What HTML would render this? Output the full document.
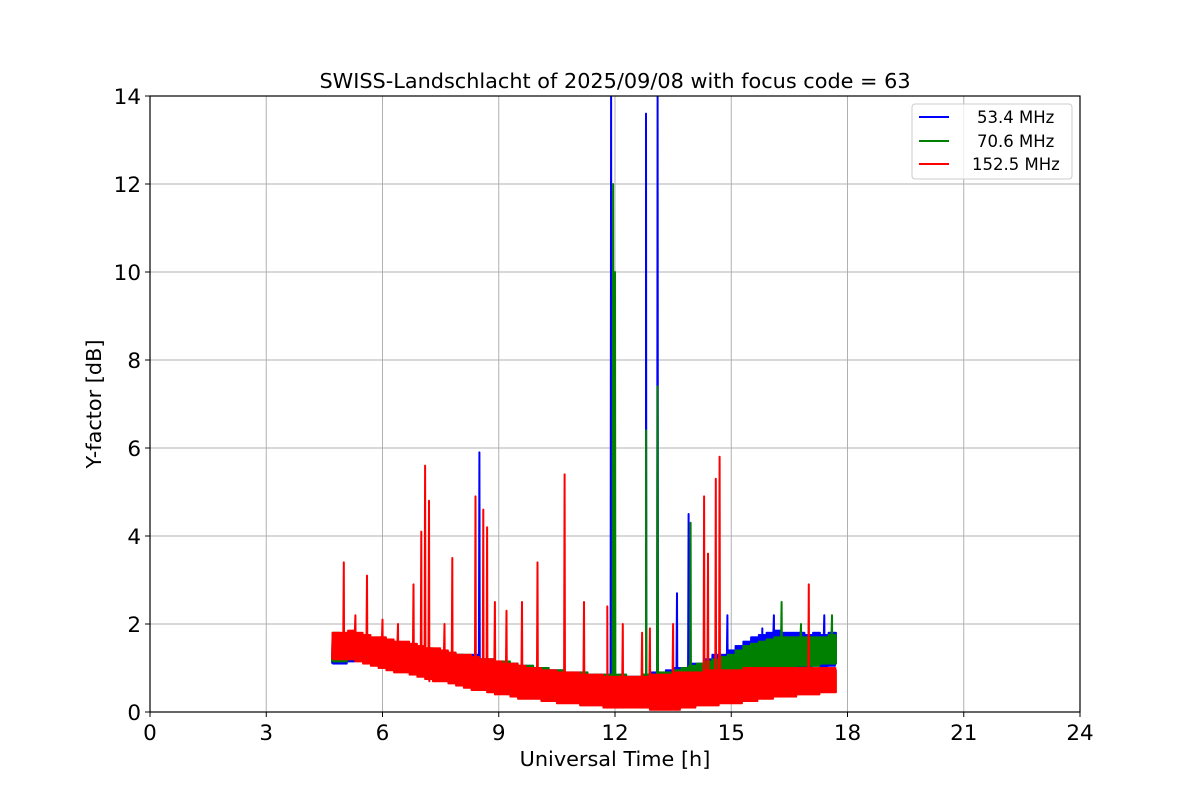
<!DOCTYPE html>
<html><head><meta charset="utf-8"><style>
body{margin:0;background:#fff;}
svg{display:block;font-family:"DejaVu Sans","Liberation Sans",sans-serif;}
</style></head><body>
<svg id="chart" width="1200" height="800" xmlns="http://www.w3.org/2000/svg">
<rect width="1200" height="800" fill="#fff"/>
<text x="615" y="88" text-anchor="middle" font-size="20.8">SWISS-Landschlacht of 2025/09/08 with focus code = 63</text>
<g id="grid"></g>
<g id="series"></g>
<rect x="150" y="96" width="930" height="616" fill="none" stroke="#000" stroke-width="1.2"/>
<g id="ticks"></g>
<text x="615" y="766" text-anchor="middle" font-size="20.8">Universal Time [h]</text>
<text transform="translate(101,404) rotate(-90)" text-anchor="middle" font-size="20.8">Y-factor [dB]</text>
<g>
<rect x="912" y="104" width="160" height="75" rx="3" fill="#fff" fill-opacity="0.8" stroke="#ccc"/>
<g><line x1="919" y1="117" x2="949" y2="117" stroke="#0000ff" stroke-width="2"/><text x="977" y="123" font-size="16.5">53.4 MHz</text></g>
<g><line x1="919" y1="141" x2="949" y2="141" stroke="#008000" stroke-width="2"/><text x="977" y="147" font-size="16.5">70.6 MHz</text></g>
<g><line x1="919" y1="164" x2="949" y2="164" stroke="#ff0000" stroke-width="2"/><text x="972" y="170" font-size="16.5">152.5 MHz</text></g>
</g>
</svg>
<script>
const xTicks=[0,3,6,9,12,15,18,21,24];
const yTicks=[0,2,4,6,8,10,12,14];
const binStart=4.7, binStep=0.2;
const blueLow=[1.1,1.1,1.15,1.2,1.15,1.1,1.1,1.05,1.0,1.0,0.95,0.9,0.9,0.85,0.8,0.75,0.75,0.7,0.7,0.65,0.6,0.6,0.55,0.5,0.5,0.45,0.45,0.4,0.4,0.35,0.35,0.3,0.3,0.3,0.25,0.25,0.2,0.2,0.2,0.2,0.15,0.15,0.2,0.15,0.2,0.2,0.2,0.25,0.25,0.3,0.35,0.4,0.5,0.55,0.6,0.7,0.8,0.9,0.95,1.0,1.0,1.0,1.05,1.0,1.05,1.1];
const blueHigh=[1.7,1.7,1.75,1.7,1.7,1.65,1.6,1.6,1.55,1.5,1.5,1.45,1.4,1.4,1.35,1.3,1.3,1.25,1.3,1.2,1.2,1.15,1.1,1.1,1.05,1.05,1.0,1.0,0.95,0.95,0.9,0.9,0.9,0.85,0.85,0.85,0.8,0.85,0.8,0.8,0.85,0.9,0.9,0.95,1.0,1.0,1.1,1.1,1.2,1.3,1.3,1.4,1.5,1.6,1.7,1.75,1.8,1.85,1.8,1.8,1.8,1.75,1.8,1.75,1.8,1.8];
const greenLow=[1.15,1.15,1.2,1.2,1.15,1.1,1.1,1.05,1.0,1.0,0.95,0.9,0.9,0.85,0.8,0.8,0.75,0.7,0.7,0.65,0.6,0.6,0.55,0.55,0.5,0.5,0.45,0.45,0.4,0.4,0.35,0.35,0.3,0.3,0.3,0.25,0.25,0.25,0.2,0.2,0.2,0.2,0.2,0.2,0.25,0.25,0.25,0.3,0.3,0.35,0.4,0.45,0.55,0.6,0.7,0.8,0.85,0.95,1.0,1.0,1.05,1.05,1.05,1.1,1.1,1.1];
const greenHigh=[1.8,1.75,1.7,1.7,1.7,1.65,1.6,1.6,1.55,1.55,1.5,1.45,1.45,1.4,1.35,1.35,1.3,1.3,1.25,1.2,1.2,1.15,1.15,1.1,1.05,1.05,1.0,1.0,0.95,0.95,0.9,0.9,0.9,0.85,0.85,0.85,0.85,0.85,0.8,0.8,0.85,0.85,0.9,0.9,0.95,1.0,1.05,1.1,1.15,1.2,1.25,1.3,1.4,1.5,1.55,1.6,1.65,1.7,1.7,1.7,1.7,1.7,1.7,1.7,1.75,1.7];
const redLow=[1.2,1.2,1.2,1.15,1.1,1.05,1.0,0.95,0.9,0.9,0.85,0.8,0.75,0.7,0.7,0.65,0.6,0.55,0.5,0.5,0.45,0.4,0.4,0.35,0.3,0.3,0.3,0.25,0.25,0.2,0.2,0.2,0.15,0.15,0.15,0.1,0.1,0.1,0.1,0.1,0.1,0.05,0.05,0.05,0.05,0.1,0.1,0.15,0.15,0.15,0.2,0.2,0.2,0.25,0.25,0.3,0.3,0.35,0.35,0.35,0.4,0.4,0.4,0.45,0.45,0.45];
const redHigh=[1.8,1.8,1.85,1.8,1.75,1.7,1.7,1.65,1.6,1.6,1.55,1.5,1.45,1.45,1.4,1.35,1.3,1.3,1.25,1.2,1.2,1.15,1.1,1.1,1.05,1.0,1.0,0.95,0.95,0.9,0.9,0.9,0.85,0.85,0.85,0.8,0.8,0.8,0.8,0.8,0.8,0.85,0.85,0.85,0.9,0.9,0.9,0.9,0.95,0.95,0.95,0.95,0.95,1.0,1.0,1.0,1.0,1.0,1.0,1.0,1.0,1.0,1.0,1.0,1.0,0.95];
const blueSpikeT=[8.5,11.9,12.8,13.1,13.9,13.6,14.9,17.4,16.1,15.8];
const blueSpikeV=[5.9,14,13.6,14,4.5,2.7,2.2,2.2,2.2,1.9];
const greenSpikeT=[11.95,12.0,12.8,13.1,13.95,16.3,17.6,16.8];
const greenSpikeV=[12,10,6.4,7.4,4.3,2.5,2.2,2.0];
const redSpikeT=[5.0,5.6,6.8,7.0,7.1,7.2,7.8,8.4,8.6,8.7,8.9,9.6,10.0,10.7,11.2,11.8,12.7,12.9,13.5,14.3,14.4,14.6,14.7,17.0,7.6,9.2,6.4,12.2,5.3,6.0];
const redSpikeV=[3.4,3.1,2.9,4.1,5.6,4.8,3.5,4.9,4.6,4.2,2.5,2.5,3.4,5.4,2.5,2.4,1.8,1.9,2.0,4.9,3.6,5.3,5.8,2.9,2.0,2.3,2.0,2.0,2.2,2.1];

const NS="http://www.w3.org/2000/svg";
const X0=150,X1=1080,Y0=712,Y1=96;
const sx=t=>X0+(t-0)/24*(X1-X0);
const sy=v=>Y0-(v-0)/14*(Y0-Y1);
function mk(tag,attrs,parent){const e=document.createElementNS(NS,tag);for(const k in attrs)e.setAttribute(k,attrs[k]);parent.appendChild(e);return e;}
const grid=document.getElementById('grid'),ticks=document.getElementById('ticks'),ser=document.getElementById('series');
xTicks.forEach(t=>{
 const g=mk('line',{x1:sx(t),x2:sx(t),y1:Y1,y2:Y0,stroke:'#b0b0b0','stroke-width':1},grid);
 
 
 mk('line',{x1:sx(t),x2:sx(t),y1:Y0,y2:Y0+5,stroke:'#000','stroke-width':1},ticks);
 const tx=mk('text',{x:sx(t),y:Y0+28,'text-anchor':'middle','font-size':21.5},ticks);tx.textContent=t;
 
 
});
yTicks.forEach(v=>{
 const g=mk('line',{x1:X0,x2:X1,y1:sy(v),y2:sy(v),stroke:'#b0b0b0','stroke-width':1},grid);
 
 
 mk('line',{x1:X0-5,x2:X0,y1:sy(v),y2:sy(v),stroke:'#000','stroke-width':1},ticks);
 const tx=mk('text',{x:X0-9,y:sy(v)+8,'text-anchor':'end','font-size':21.5},ticks);tx.textContent=v;
 
 
});
function drawSeries(name,color,lo,hi,spT,spV){
 const pts=[];
 const sub=16;
 for(let i=0;i<lo.length;i++){
  const t=binStart+i*binStep;
  const w=(i<lo.length-1)?binStep:0.001;
  for(let k=0;k<sub;k++){
   const tt=t+w*k/sub;
   const v=(k%2===0)?lo[i]:hi[i];
   pts.push([tt,v]);
  }
 }
 spT.forEach((t,j)=>{
  let idx=pts.findIndex(p=>p[0]>=t);
  if(idx<0)idx=pts.length-1;
  pts.splice(idx,0,[t,spV[j]],[t+0.01,lo[Math.min(lo.length-1,Math.max(0,Math.round((t-binStart)/binStep)))]]);
 });
 const p=mk('polyline',{points:pts.map(q=>sx(q[0]).toFixed(1)+','+sy(Math.min(q[1],14.2)).toFixed(1)).join(' '),fill:'none',stroke:color,'stroke-width':2,'stroke-linejoin':'round'},ser);
 
 
}
const clip=mk('clipPath',{id:'pc'},document.getElementById('chart'));
mk('rect',{x:X0,y:Y1,width:X1-X0,height:Y0-Y1},clip);
ser.setAttribute('clip-path','url(#pc)');
drawSeries('series-53mhz','#0000ff',blueLow,blueHigh,blueSpikeT,blueSpikeV);
drawSeries('series-70mhz','#008000',greenLow,greenHigh,greenSpikeT,greenSpikeV);
drawSeries('series-152mhz','#ff0000',redLow,redHigh,redSpikeT,redSpikeV);
</script>
</body></html>
